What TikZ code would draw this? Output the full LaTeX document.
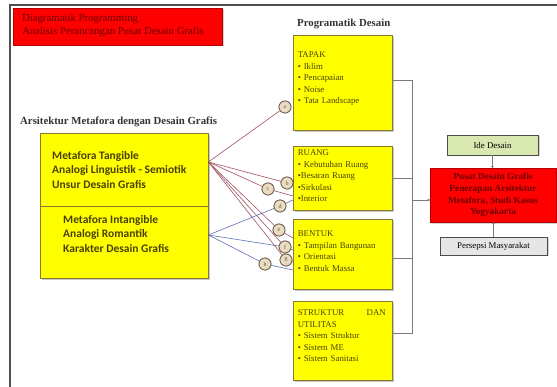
\documentclass[tikz,border=0pt]{standalone}
\usepackage{fontspec}
\setmainfont{Liberation Serif}
\newfontfamily\carlito{Carlito}
\usetikzlibrary{shadows,arrows.meta,positioning}
\definecolor{ylw}{HTML}{FFFF00}
\definecolor{ylwborder}{HTML}{8A7A30}
\definecolor{olivetext}{HTML}{4A4000}
\definecolor{redfill}{HTML}{FF0000}
\definecolor{redborder}{HTML}{B00000}
\definecolor{redtext}{HTML}{6A0000}
\definecolor{greenfill}{HTML}{D8E8B0}
\definecolor{grayfill}{HTML}{E6E6E6}
\definecolor{conn}{HTML}{7A7A7A}
\definecolor{redline}{HTML}{A05060}
\definecolor{blueline}{HTML}{6070B0}
\definecolor{circfill}{HTML}{EADCC0}
\definecolor{circborder}{HTML}{6B5A4A}
\definecolor{frame}{HTML}{505050}
\tikzset{
  ybox/.style={draw=ylwborder, line width=0.8pt, fill=ylw, inner sep=0pt,
    drop shadow={shadow xshift=2pt, shadow yshift=-2pt, opacity=0.45}},
  boxtext/.style={anchor=north west, inner sep=0pt, text width=90pt, align=left,
    font=\fontsize{8.8}{11.5}\selectfont, text=olivetext},
  lettercirc/.style={circle, draw=circborder, line width=0.7pt, fill=circfill,
    minimum size=12pt, inner sep=0pt, font=\fontsize{6}{6}\selectfont, text=circborder},
  connline/.style={draw=conn, line width=0.6pt},
  rline/.style={draw=redline, line width=0.6pt},
  bline/.style={draw=blueline, line width=0.6pt},
  header/.style={font=\bfseries\fontsize{10.8}{12}\selectfont, text=black!80, inner sep=0pt},
  dot/.style={-{Circle[length=2.2pt]}},
}
\begin{document}
\begin{tikzpicture}[x=1pt,y=-1pt]
\useasboundingbox (0,0) rectangle (557,387);
% frame
\draw[frame, line width=1.4pt] (10,387) -- (10,5) -- (557,5);

% title box
\node[draw=redborder, fill=redfill, minimum width=209pt, minimum height=37pt, inner sep=0pt,
  drop shadow={shadow xshift=2pt, shadow yshift=-1pt, opacity=0.35}] (title) at (117.5,26.5) {};
\node[anchor=north west, inner sep=0pt, align=left, text=redtext,
  font=\fontsize{10.8}{13}\selectfont] (titletxt) at ([xshift=9pt,yshift=-6.5pt]title.north west)
  {Diagramatik Programming\\Analisis Perancangan Pusat Desain Grafis};

% headers
\node[header, anchor=west] (progh) at (297,24) {Programatik Desain};
\node[header, anchor=west] (arsh) at (20,122) {Arsitektur Metafora dengan Desain Grafis};

% programatik boxes
\node[ybox, minimum width=99pt, minimum height=95pt] (tapak) at (342.5,82.5) {};
\node[boxtext] (tapaktxt) at ([xshift=5pt,yshift=-17pt]tapak.north west)
  {TAPAK\\\textbullet{} Iklim\\\textbullet{} Pencapaian\\\textbullet{} Noise\\\textbullet{} Tata Landscape};

\node[ybox, minimum width=99pt, minimum height=64pt] (ruang) at (342.5,178) {};
\node[boxtext] (ruangtxt) at ([xshift=5pt,yshift=-4pt]ruang.north west)
  {RUANG\\\textbullet{} Kebutuhan Ruang\\\textbullet Besaran Ruang\\\textbullet Sirkulasi\\\textbullet Interior};

\node[ybox, minimum width=99pt, minimum height=70pt] (bentuk) at (342.5,254) {};
\node[boxtext] (bentuktxt) at ([xshift=5pt,yshift=-12pt]bentuk.north west)
  {BENTUK\\\textbullet{} Tampilan Bangunan\\\textbullet{} Orientasi\\\textbullet{} Bentuk Massa};

\node[ybox, minimum width=99pt, minimum height=79pt] (struktur) at (342.5,340.5) {};
\node[boxtext] (strukturtxt) at ([xshift=5pt,yshift=-9pt]struktur.north west)
  {\makebox[88pt][s]{STRUKTUR\hfill DAN}\\UTILITAS\\\textbullet{} Sistem Struktur\\\textbullet{} Sistem ME\\\textbullet{} Sistem Sanitasi};

% right side boxes
\node[draw=redborder, fill=redfill, minimum width=126pt, minimum height=54pt, inner sep=0pt,
  drop shadow={shadow xshift=2pt, shadow yshift=-2pt, opacity=0.35}] (pusat) at (493,195) {};
\node[align=center, inner sep=0pt, text=redtext, font=\bfseries\fontsize{9.3}{11.8}\selectfont] (pusattxt)
  at (pusat.center) {Pusat Desain Grafis\\Penerapan Arsitektur\\Metafora, Studi Kasus\\Yogyakarta};
\node[draw=black!70, fill=greenfill, minimum width=91pt, minimum height=20pt, inner sep=0pt,
  font=\fontsize{8.8}{9}\selectfont,
  drop shadow={shadow xshift=1.5pt, shadow yshift=-1.5pt, opacity=0.35}] (ide) at (492.5,145) {Ide Desain};
\node[draw=black!70, fill=grayfill, minimum width=107pt, minimum height=18pt, inner sep=0pt,
  font=\fontsize{8.8}{9}\selectfont,
  drop shadow={shadow xshift=1.5pt, shadow yshift=-1.5pt, opacity=0.35}] (persepsi) at (493.5,246) {Persepsi Masyarakat};

% bus connectors
\coordinate (bustop) at (412,80);
\coordinate (busbot) at (412,333);
\coordinate (busmid) at (412,200);
\draw[connline] ([yshift=2.5pt]tapak.east) -- (bustop) -- (busbot) -- ([yshift=7.5pt]struktur.east);
\draw[connline] (ruang.east) -- (ruang.east -| bustop);
\draw[connline] ([yshift=-4pt]bentuk.east) -- ([yshift=-4pt]bentuk.east -| bustop);
\draw[connline, dot] (busmid) -- (busmid -| pusat.west);
\draw[connline, dot] (ide.south) -- (ide.south |- pusat.north);
\draw[connline, dot] (persepsi.north) -- (persepsi.north |- pusat.south);

% left box
\node[ybox, minimum width=168pt, minimum height=73pt] (upper) at (124,169.5) {};
\node[ybox, minimum width=168pt, minimum height=72pt] (lower) at (124,242) {};
\node[anchor=north west, inner sep=0pt, align=left, text=olivetext,
  font=\carlito\bfseries\fontsize{11.5}{14.5}\selectfont] (uppertxt) at (52,151)
  {Metafora Tangible\\Analogi Linguistik - Semiotik\\Unsur Desain Grafis};
\node[anchor=north west, inner sep=0pt, align=left, text=olivetext,
  font=\carlito\bfseries\fontsize{11.5}{14.5}\selectfont] (lowertxt) at (63,215)
  {Metafora Intangible\\Analogi Romantik\\Karakter Desain Grafis};

\coordinate (lt) at ([yshift=7.5pt]upper.east);
\coordinate (lb) at ([yshift=7pt]lower.east);

% letter circles
\node[lettercirc] (ca) at (285,107) {a};
\node[lettercirc] (cb) at (287,183) {b};
\node[lettercirc] (cc) at (268,189) {c};
\node[lettercirc] (cd) at (280,206) {d};
\node[lettercirc] (ce) at (279,230) {e};
\node[lettercirc] (cf) at (285,247) {f};
\node[lettercirc] (cg) at (286,260) {g};
\node[lettercirc] (ch) at (265,264) {h};

% relation lines
\coordinate (pc) at (293,196);
\coordinate (pe) at (293,238);
\coordinate (pg) at (293,262);
\coordinate (pd) at (293,200);
\coordinate (pf) at (293,250);
\coordinate (ph) at (293,270);
\draw[rline] (lt) -- (ca);
\draw[rline] (lt) -- (cb) -- (cb -| ruang.west);
\draw[rline] (lt) -- (cc) -- (pc);
\draw[rline] (lt) -- (ce) -- (pe);
\draw[rline] (lt) -- (cf);
\draw[rline] (lt) -- (cg) -- (pg);
\draw[bline] (lb) -- (cd) -- (pd);
\draw[bline] (lb) -- (cf) -- (pf);
\draw[bline] (lb) -- (ch) -- (ph);
% redraw circles on top
\foreach \c/\l in {ca/a,cb/b,cc/c,cd/d,ce/e,cf/f,cg/g,ch/h}
  \node[lettercirc] at (\c) {\l};
\end{tikzpicture}
\end{document}
